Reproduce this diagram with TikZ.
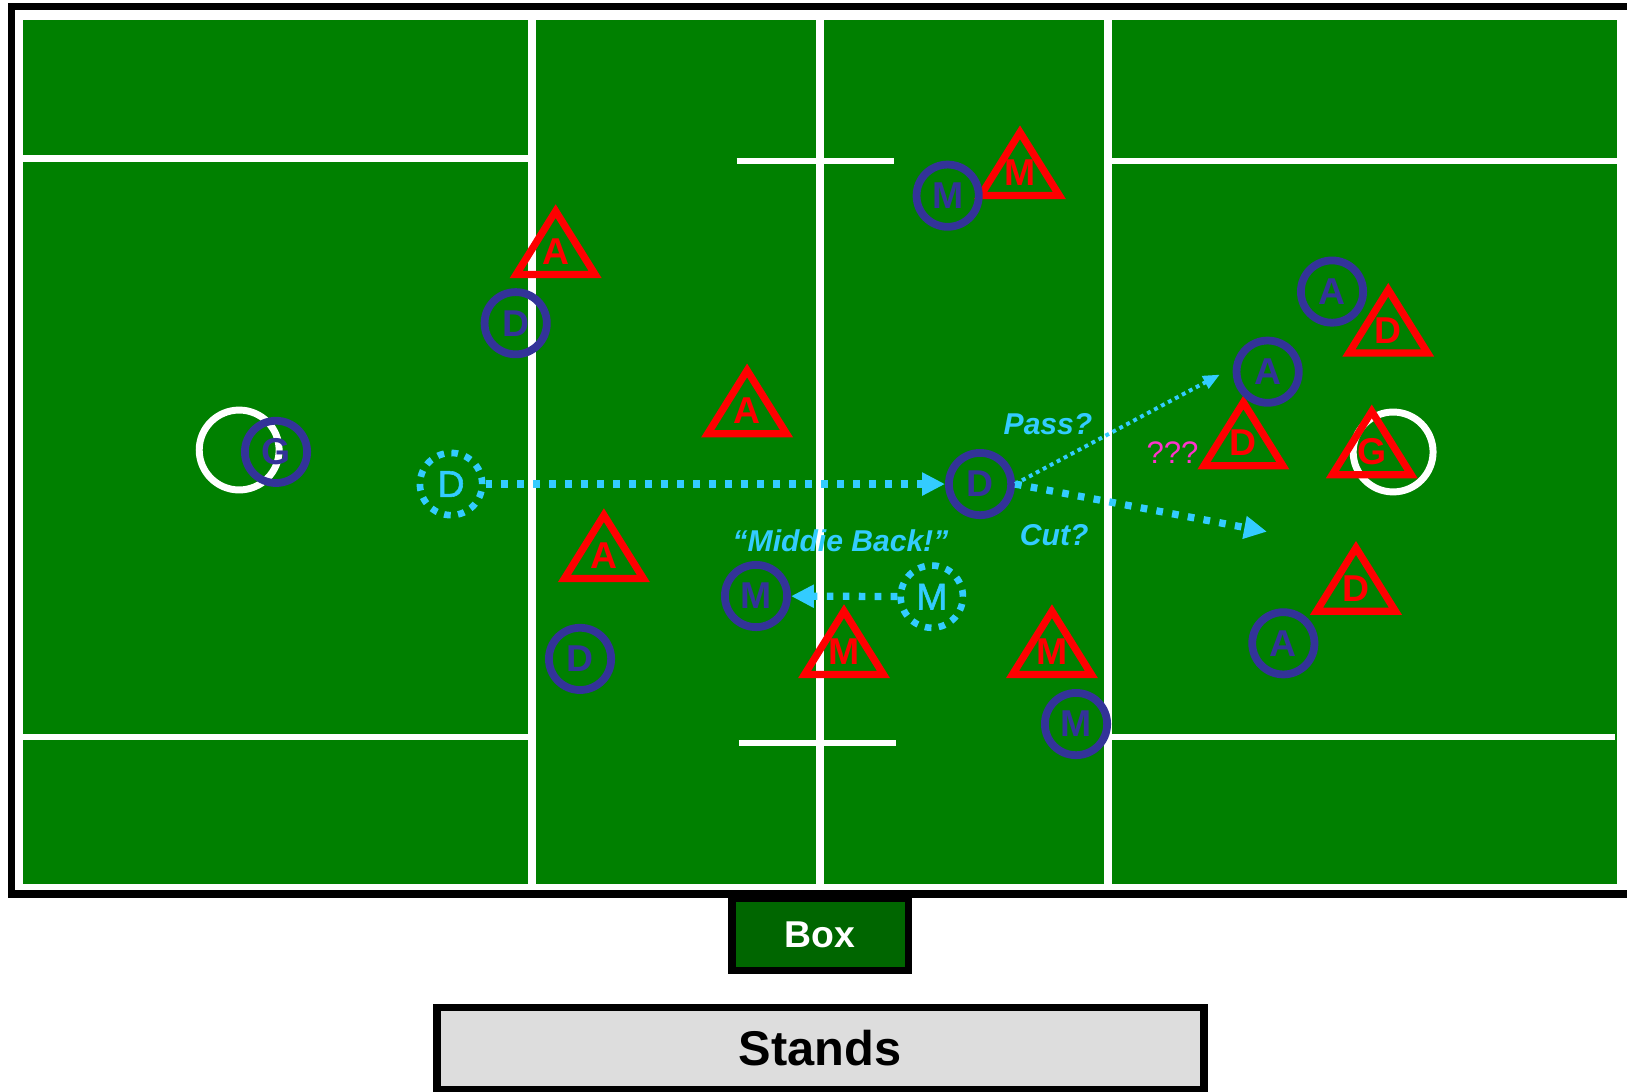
\documentclass[tikz,border=0pt]{standalone}
\usepackage{fontspec}
\setmainfont{Liberation Sans}
\newfontfamily\ghostfont[FakeBold=1.5]{Liberation Sans}
\usetikzlibrary{arrows.meta}
\definecolor{field}{HTML}{008000}
\definecolor{boxgreen}{HTML}{006600}
\definecolor{navy}{HTML}{333399}
\definecolor{cyanp}{HTML}{33CCFF}
\definecolor{redp}{HTML}{FF0000}
\definecolor{pinkq}{HTML}{FF33CC}
\definecolor{standsgray}{HTML}{DDDDDD}
\begin{document}
\begin{tikzpicture}[x=0.5pt,y=-0.5pt,
  hline/.style={white,line width=3pt},
  vline/.style={white,line width=3.75pt},
  goal/.style={white,line width=3.35pt},
  offp/.style={circle,draw=navy,line width=3.75pt,minimum size=30pt,inner sep=0pt,text=navy,
    font=\fontsize{18}{20}\selectfont\bfseries},
  ghost/.style={circle,draw=cyanp,line width=3.2pt,dash pattern=on 3.2pt off 3.53pt,minimum size=30pt,
    inner sep=0pt,text=cyanp,font=\ghostfont\fontsize{18}{20}\selectfont},
  tri/.style={draw=redp,line width=3.5pt},
  trilabel/.style={text=redp,font=\fontsize{18}{20}\selectfont\bfseries,inner sep=0pt},
  move/.style={cyanp,line width=3.5pt,dash pattern=on 3.2pt off 4.5pt,
    -{Triangle[length=11pt,width=10.5pt]}},
  thinmove/.style={cyanp,line width=1.9pt,dash pattern=on 1.9pt off 1.9pt,
    -{Triangle[length=8pt,width=6.5pt]}},
  call/.style={text=cyanp,font=\fontsize{14.5}{16}\selectfont\bfseries\itshape,inner sep=0pt},
  pics/defender/.style={code={
    \draw[tri] (-38,0) -- (0,-61) -- (38,0) -- cycle;
    \node[trilabel] (-lbl) at (0,-22) {#1};}},
]
\useasboundingbox (0,0) rectangle (1568,1052);
% frame and field
\draw[black,line width=3.5pt,fill=white] (11,6.5) rectangle (1590,861.5);
\fill[field] (22,19) rectangle (1558.5,852);
\draw[vline] (513,19) -- (513,852);
\draw[vline] (790,19) -- (790,852);
\draw[vline] (1068,19) -- (1068,852);
\draw[hline] (22,152.7) -- (513,152.7);
\draw[hline] (22,710.5) -- (513,710.5);
\draw[hline] (1068,155.3) -- (1558.5,155.3);
\draw[hline] (1068,710.5) -- (1556,710.5);
\draw[hline] (710,155.3) -- (862,155.3);
\draw[hline] (712,716) -- (863.5,716);
\draw[goal] (230.5,433.7) circle[radius=38.5];
\draw[goal] (1342.6,435.6) circle[radius=38.5];
% defenders (red triangles)
\pic (t1) at (535.5,264.5) {defender=A};
\pic (t2) at (983,188.5) {defender=M};
\pic (t3) at (720,418) {defender=A};
\pic (t4) at (582,557.5) {defender=A};
\pic (t5) at (813.4,650) {defender=M};
\pic (t6) at (1013.8,650) {defender=M};
\pic (t7) at (1337.9,340.3) {defender=D};
\pic (t8) at (1198.3,448.8) {defender=D};
\pic (t9) at (1322,457.5) {defender=G};
\pic (t10) at (1306.8,589) {defender=D};
% offence (blue circles)
\node[offp] (gL) at (266,435.5) {G};
\node[offp] (dU) at (497,311.5) {D};
\node[offp] (dL) at (559,635) {D};
\node[offp] (mT) at (913.3,188.6) {M};
\node[offp] (dC) at (944.5,466.5) {D};
\node[offp] (mB) at (728.6,574.4) {M};
\node[offp] (mR) at (1037,697.8) {M};
\node[offp] (aT) at (1283.7,281) {A};
\node[offp] (aM) at (1221.7,358.2) {A};
\node[offp] (aB) at (1236.8,620) {A};
% ghost positions
\node[ghost] (cD) at (434.7,466.5) {D};
\node[ghost] (cM) at (898,575) {M};
% movements
\coordinate (passend) at (1175.6,361);
\coordinate (cutend) at (1221,512.4);
\draw[move] (cD) -- (dC);
\draw[move] (cM) -- (mB);
\draw[thinmove] (dC.east) -- (passend);
\draw[move] (dC.east) -- (cutend);
% labels
\node[call] (pass) at (1010,409) {Pass?};
\node[call] (cut) at (1016,516) {Cut?};
\node[call] (middie) at (810,521) {“Middie Back!”};
\node[text=pinkq,font=\fontsize{15}{17}\selectfont,inner sep=0pt] (qqq) at (1130,436) {???};
% box and stands
\node[draw=black,line width=3.5pt,fill=boxgreen,minimum width=85pt,minimum height=35pt,inner sep=0pt,
  text=white,font=\fontsize{18}{20}\selectfont\bfseries] (box) at (790.5,900.5) {Box};
\node[draw=black,line width=3.75pt,fill=standsgray,minimum width=369.5pt,minimum height=39.5pt,inner sep=0pt,
  font=\fontsize{23.5}{26}\selectfont\bfseries] (stands) at (790.5,1010.5) {Stands};
\end{tikzpicture}
\end{document}
